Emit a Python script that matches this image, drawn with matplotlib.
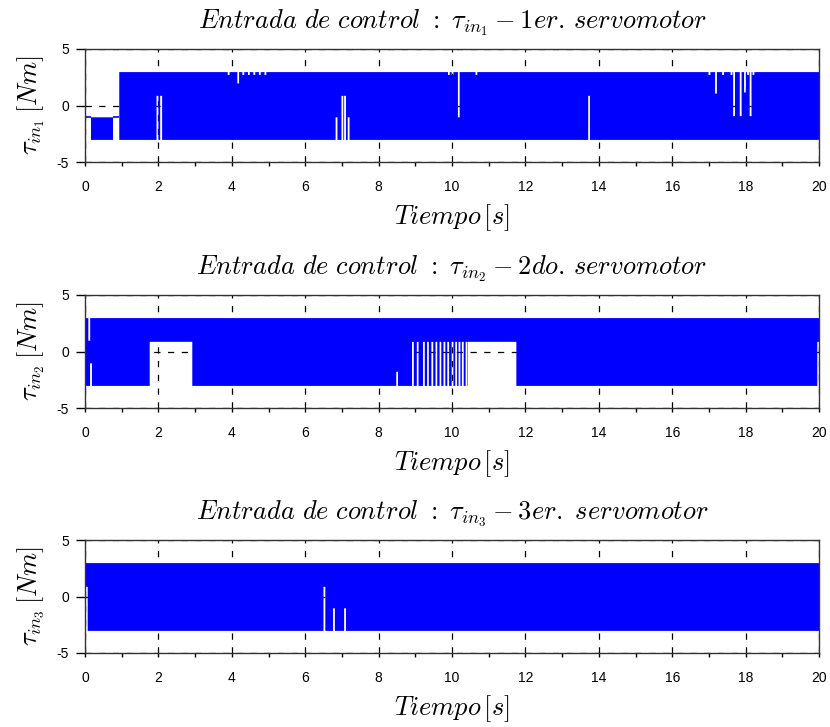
import numpy as np
import matplotlib
matplotlib.use("Agg")
import matplotlib.pyplot as plt
from matplotlib.ticker import MultipleLocator

plt.rcParams["font.family"] = ["Liberation Sans", "DejaVu Sans"]
plt.rcParams["mathtext.fontset"] = "cm"
plt.rcParams["axes.unicode_minus"] = False

T_END = 20.0
BLUE = "#0000ff"

# Chattering control torques, described by their envelopes.
# Piecewise segments: (start time [s], lower bound [Nm], upper bound [Nm])
tau1_segments = [(0.0, -1.0, -1.0), (0.15, -3.0, -1.0), (0.75, -1.0, -1.0), (0.92, -3.0, 3.0)]
# Short instants where the lower bound lifts: (time [s], lower bound [Nm])
tau1_lower_lifts = [(1.96, 0.9), (2.06, 0.9), (6.84, -1.0), (7.0, 0.9), (7.07, 0.9),
                    (7.17, -1.0), (13.72, 0.9)]
# Short instants where the upper bound drops: (time [s], upper bound [Nm])
tau1_upper_drops = [(3.9, 2.75), (4.16, 2.0), (4.3, 2.75), (4.45, 2.75), (4.6, 2.75),
                    (4.75, 2.75), (4.9, 2.75), (9.9, 2.75), (10.0, 2.75), (10.17, -1.0),
                    (10.65, 2.75), (17.0, 2.75), (17.18, 1.1), (17.37, 2.75), (17.6, 2.75),
                    (17.67, -0.9), (17.85, -0.9), (17.97, 1.2), (18.05, 2.75), (18.12, -0.9),
                    (18.2, 2.75)]

tau2_segments = [(0.0, -3.0, 3.0), (1.75, 0.9, 3.0), (2.91, -3.0, 3.0), (10.42, 0.9, 3.0),
                 (11.74, -3.0, 3.0), (19.94, 0.9, 3.0)]
tau2_lower_lifts = [(0.15, -1.0), (8.49, -1.75), (8.92, 0.9), (9.05, 0.9), (9.22, 0.9),
                    (9.33, 0.9), (9.45, 0.9), (9.56, 0.9), (9.67, 0.9), (9.78, 0.9),
                    (9.88, 0.9), (10.0, 0.9), (10.1, 0.9), (10.19, 0.9), (10.28, 0.9),
                    (10.38, 0.9)]
tau2_upper_drops = [(0.1, 1.0)]

tau3_segments = [(0.0, 0.9, 3.0), (0.06, -3.0, 3.0)]
tau3_lower_lifts = [(6.51, 0.9), (6.77, -1.0), (7.07, -1.0)]
tau3_upper_drops = []

titles = [r"$Entrada\ de\ control\ :\ \tau_{in_1} - 1er.\,servomotor$",
          r"$Entrada\ de\ control\ :\ \tau_{in_2} - 2do.\,servomotor$",
          r"$Entrada\ de\ control\ :\ \tau_{in_3} - 3er.\ servomotor$"]
ylabels = [r"$\tau_{in_1}\,[Nm]$", r"$\tau_{in_2}\,[Nm]$", r"$\tau_{in_3}\,[Nm]$"]
xlabel = r"$Tiempo\,[s]$"


def envelope(segments, lifts, drops, width=0.05, dt=0.0025):
    t = np.arange(0.0, T_END + dt / 2, dt)
    starts = np.array([s[0] for s in segments])
    idx = np.searchsorted(starts, t, side="right") - 1
    lo = np.array([s[1] for s in segments])[idx]
    hi = np.array([s[2] for s in segments])[idx]
    for tc, v in lifts:
        m = np.abs(t - tc) < width / 2
        lo[m] = np.maximum(lo[m], v)
    for tc, v in drops:
        m = np.abs(t - tc) < width / 2
        hi[m] = np.minimum(hi[m], v)
    return t, lo, hi


fig = plt.figure(figsize=(8.3, 7.27), dpi=100)
W, H = 830.0, 727.0
left_px, right_px = 85, 819
tops_px = [49, 295, 540]
height_px = 113

panels = [(tau1_segments, tau1_lower_lifts, tau1_upper_drops),
          (tau2_segments, tau2_lower_lifts, tau2_upper_drops),
          (tau3_segments, tau3_lower_lifts, tau3_upper_drops)]

for k, (segs, lifts, drops) in enumerate(panels):
    top = tops_px[k]
    ax = fig.add_axes([left_px / W, 1 - (top + height_px) / H,
                       (right_px - left_px) / W, height_px / H])
    t, lo, hi = envelope(segs, lifts, drops)
    ax.fill_between(t, lo, hi, step="post", color=BLUE, lw=0, zorder=2)
    # flat stretches of the signal show up as plain lines
    for i, (s, a, b) in enumerate(segs):
        if a == b:
            e = segs[i + 1][0] if i + 1 < len(segs) else T_END
            ax.hlines(a, s, e, color=BLUE, lw=1.2, zorder=2)

    ax.set_xlim(0, T_END)
    ax.set_ylim(-5, 5)
    ax.xaxis.set_major_locator(MultipleLocator(2))
    ax.xaxis.set_minor_locator(MultipleLocator(1))
    ax.yaxis.set_major_locator(MultipleLocator(5))
    ax.grid(True, which="major", color="black", lw=0.9, ls=(0, (5, 6)), zorder=0)
    ax.set_axisbelow(True)
    ax.tick_params(axis="y", which="major", direction="out", length=6.5, width=1,
                   pad=5, labelsize=10, colors="black")
    ax.tick_params(axis="x", which="major", direction="out", length=3, width=1,
                   pad=10, labelsize=10, colors="black")
    ax.tick_params(axis="x", which="minor", direction="out", length=3, width=1)
    for sp in ax.spines.values():
        sp.set_color("#333333")
        sp.set_linewidth(1.0)

    ax.set_ylabel(ylabels[k], fontsize=19)
    ax.yaxis.set_label_coords(-38 / 734, 0.5)
    ax.set_xlabel(xlabel, fontsize=19)
    ax.xaxis.set_label_coords(0.5, -0.36)
    ax.xaxis.label.set_va("top")
    ax.text(0.5, 1.235, titles[k], transform=ax.transAxes, ha="center", va="center",
            fontsize=19)

fig.savefig("out.png", dpi=100)
